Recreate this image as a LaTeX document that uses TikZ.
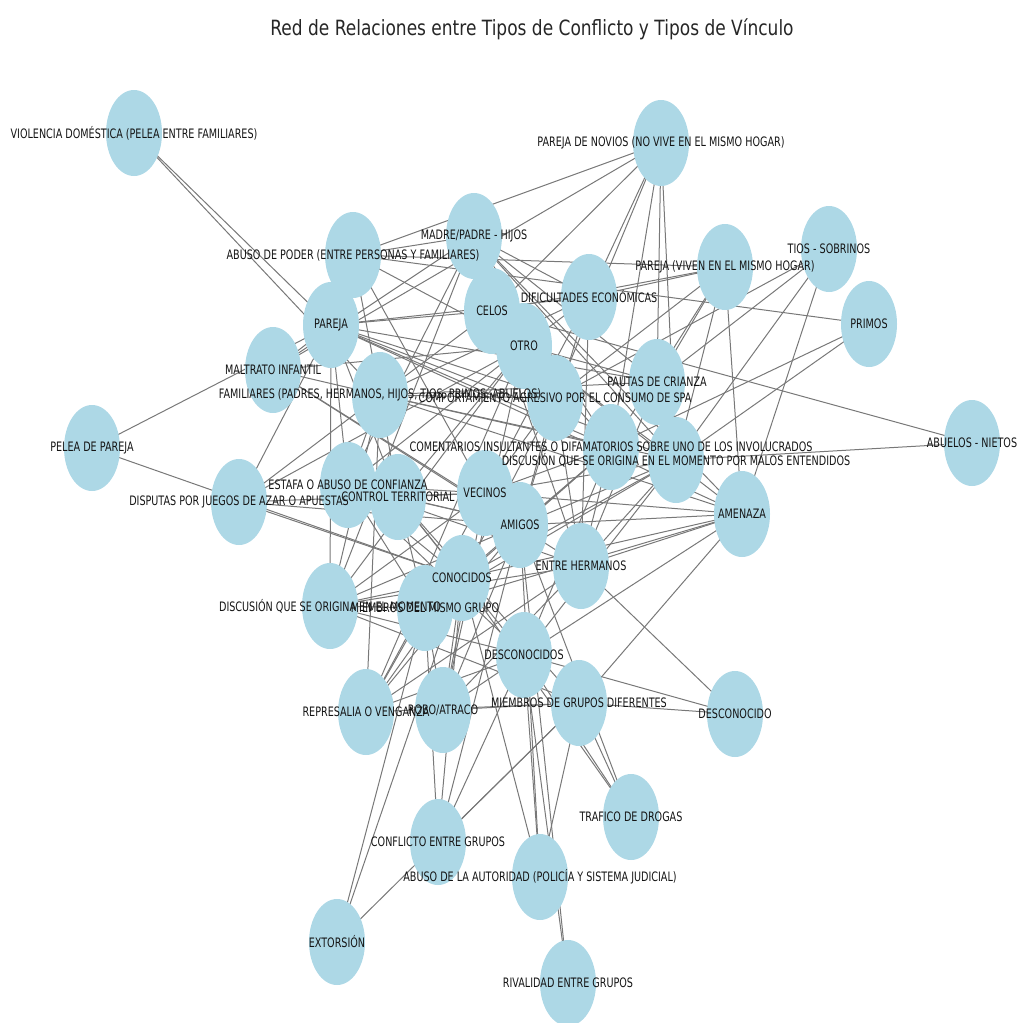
\documentclass[tikz,border=0pt]{standalone}
\usepackage{fontspec}
\usepackage{graphicx}
\setmainfont{DejaVu Sans}
\usetikzlibrary{shapes.geometric,backgrounds}
\definecolor{nodeblue}{HTML}{ADD8E6}
\definecolor{edgegray}{HTML}{787878}
\newcommand\sqz[1]{\scalebox{0.74}[1]{#1}}
\newcommand\sqt[1]{\scalebox{0.81}[1]{#1}}
\begin{document}
\begin{tikzpicture}[x=1pt,y=-1pt,
  vnode/.style={ellipse, fill=nodeblue, minimum width=56pt, minimum height=86pt, inner sep=0pt},
  vlabel/.style={font=\fontsize{13}{13}\selectfont, inner sep=0pt, text=black!92},
  conn/.style={draw=edgegray, line width=1pt}]
\useasboundingbox (0,0) rectangle (1019,1023);
\node[font=\fontsize{21}{21}\selectfont, text=black!85] (title) at (532,29) {\sqt{Red de Relaciones entre Tipos de Conflicto y Tipos de Vínculo}};
% nodes
\foreach \n/\x/\y in {VD/134/133, PN/661/143, MP/474/236, AP/353/255, TS/829/249, PV/725/267,
  DE/589/297, PR/869/324, CE/492/311, PA/331/325, OT/524/346, MI/273/370, FA/380/395,
  PC/657/382, CA/555/398, AN/972/443, CI/611/447, DM/676/460, PP/92/448, ES/348/485,
  CT/398/497, DJ/239/502, VE/485/493, AM/742/514, AG/520/525, EH/581/566, CO/462/578,
  DO/330/606, MG/425/608, DS/524/655, RV/366/712, RA/443/710, GD/579/703, DC/735/714,
  TD/631/817, CG/438/842, AA/540/877, EX/337/942, RG/568/983}
  {\node[vnode] (\n) at (\x,\y) {};}
% connectors
\begin{pgfonlayer}{background}
\foreach \a/\b in {PA/VD, PA/PP, PA/DJ, PA/DO, PA/ES, PA/CT, PA/CE, PA/AP, PA/DE, PA/CA, PA/CI, PA/DM, PA/AM, PA/PC, PA/MI,
  FA/VD, FA/DJ, FA/MI, FA/AP, FA/DE, FA/CA, FA/CI, FA/DM, FA/PC, FA/AM, FA/ES, FA/CT, FA/RV, FA/CE, FA/DO,
  MP/AP, MP/MI, MP/CE, MP/DE, MP/PC, MP/CA, MP/CI, MP/DM, MP/AM, MP/ES, MP/DO,
  PN/CE, PN/DE, PN/MI, PN/CA, PN/CI, PN/PC, PN/DM, PN/AP,
  TS/CA, TS/PC, TS/AM, TS/DM,
  PV/DE, PV/CE, PV/CA, PV/CI, PV/DM, PV/AM, PV/PC, PV/AP,
  PR/AP, PR/CI, PR/DM,
  AN/CE, AN/DM,
  OT/CE, OT/AP, OT/MI, OT/DE, OT/PC, OT/CA, OT/CI, OT/DM, OT/ES, OT/CT, OT/AM, OT/DO, OT/DJ, OT/RV, OT/RA,
  VE/CI, VE/DM, VE/AM, VE/CT, VE/ES, VE/DO, VE/CA, VE/RV, VE/RA, VE/DE, VE/DJ, VE/AP,
  AG/CI, AG/DM, AG/AM, AG/CT, AG/ES, AG/DO, AG/RV, AG/RA, AG/CA, AG/DJ, AG/TD, AG/CG, AG/DE, AG/MI, AG/AA, AG/RG,
  EH/AM, EH/CI, EH/DM, EH/DC, EH/CA, EH/PC, EH/DE, EH/CE, EH/RV, EH/DO, EH/ES, EH/MI, EH/RA,
  CO/PP, CO/DJ, CO/CI, CO/DM, CO/AM, CO/ES, CO/CT, CO/DO, CO/RV, CO/RA, CO/CA, CO/EX, CO/CG, CO/AA, CO/TD,
  MG/DO, MG/RV, MG/RA, MG/CT, MG/CG, MG/AM, MG/DM, MG/CI, MG/ES, MG/EX,
  DS/RA, DS/RV, DS/DO, DS/AM, DS/DM, DS/CI, DS/AA, DS/CG, DS/TD, DS/DC, DS/CT, DS/ES, DS/RG,
  GD/RA, GD/TD, GD/CG, GD/AA, GD/DC, GD/AM, GD/CT, GD/RV, GD/DO, GD/EX}
  {\draw[conn] (\a.center) -- (\b.center);}
\end{pgfonlayer}
% labels
\foreach \n/\t in {VD/{VIOLENCIA DOMÉSTICA (PELEA ENTRE FAMILIARES)},
  PN/{PAREJA DE NOVIOS (NO VIVE EN EL MISMO HOGAR)},
  MP/{MADRE/PADRE - HIJOS},
  AP/{ABUSO DE PODER (ENTRE PERSONAS Y FAMILIARES)},
  TS/{TIOS - SOBRINOS},
  PV/{PAREJA (VIVEN EN EL MISMO HOGAR)},
  DE/{DIFICULTADES ECONÓMICAS},
  PR/{PRIMOS}, CE/{CELOS}, PA/{PAREJA}, OT/{OTRO},
  MI/{MALTRATO INFANTIL},
  FA/{FAMILIARES (PADRES, HERMANOS, HIJOS, TIOS, PRIMOS, ABUELOS)},
  PC/{PAUTAS DE CRIANZA},
  CA/{COMPORTAMIENTO AGRESIVO POR EL CONSUMO DE SPA},
  AN/{ABUELOS - NIETOS},
  CI/{COMENTARIOS INSULTANTES O DIFAMATORIOS SOBRE UNO DE LOS INVOLUCRADOS},
  DM/{DISCUSIÓN QUE SE ORIGINA EN EL MOMENTO POR MALOS ENTENDIDOS},
  PP/{PELEA DE PAREJA},
  ES/{ESTAFA O ABUSO DE CONFIANZA},
  CT/{CONTROL TERRITORIAL},
  DJ/{DISPUTAS POR JUEGOS DE AZAR O APUESTAS},
  VE/{VECINOS}, AM/{AMENAZA}, AG/{AMIGOS},
  EH/{ENTRE HERMANOS}, CO/{CONOCIDOS},
  DO/{DISCUSIÓN QUE SE ORIGINA EN EL MOMENTO},
  MG/{MIEMBROS DEL MISMO GRUPO},
  DS/{DESCONOCIDOS},
  RV/{REPRESALIA O VENGANZA},
  RA/{ROBO/ATRACO},
  GD/{MIEMBROS DE GRUPOS DIFERENTES},
  DC/{DESCONOCIDO},
  TD/{TRAFICO DE DROGAS},
  CG/{CONFLICTO ENTRE GRUPOS},
  AA/{ABUSO DE LA AUTORIDAD (POLICÍA Y SISTEMA JUDICIAL)},
  EX/{EXTORSIÓN},
  RG/{RIVALIDAD ENTRE GRUPOS}}
  {\node[vlabel] (\n-l) at (\n.center) {\sqz{\t}};}
\end{tikzpicture}
\end{document}
